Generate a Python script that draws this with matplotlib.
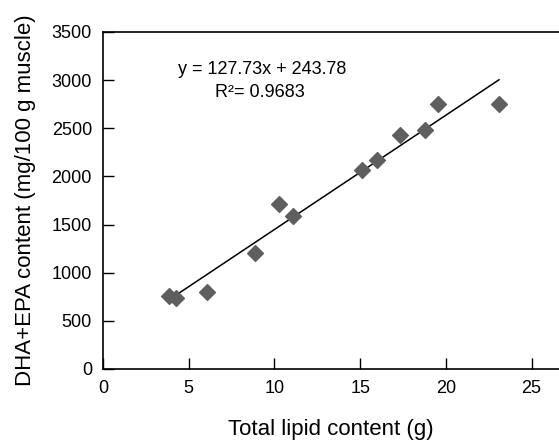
import numpy as np
import matplotlib
matplotlib.use('Agg')
import matplotlib.pyplot as plt

plt.rcParams['font.family'] = ['Liberation Sans', 'DejaVu Sans']

# %% DATA
lipid = [3.86, 4.28, 6.07, 8.86, 10.25, 11.1, 15.1, 15.98, 17.34, 18.8, 19.57, 23.1]
dha_epa = [758, 740, 795, 1208, 1713, 1592, 2066, 2170, 2430, 2482, 2752, 2752]
x_ticks = [0, 5, 10, 15, 20, 25]
y_ticks = [0, 500, 1000, 1500, 2000, 2500, 3000, 3500]
eq_text = 'y = 127.73x + 243.78'
r2_text = 'R\u00b2= 0.9683'

# %% PLOT
fig = plt.figure(figsize=(5.59, 4.45), dpi=100)
ax = fig.add_axes([0.1843, 0.1708, 0.8157, 0.7573])

ax.scatter(lipid, dha_epa, marker='D', s=65, color='#5f5f5f', zorder=3)

# regression line over the data range
k, b = np.polyfit(lipid, dha_epa, 1)
xs = np.array([min(lipid), max(lipid)])
ax.plot(xs, k * xs + b, color='black', lw=1.1, zorder=2)

ax.text(0.35, 0.89, eq_text, transform=ax.transAxes, ha='center', va='center', fontsize=13)
ax.text(0.345, 0.82, r2_text, transform=ax.transAxes, ha='center', va='center', fontsize=13)

ax.set_xlim(0, 26.6)
ax.set_ylim(0, 3500)
ax.set_xticks(x_ticks)
ax.set_yticks(y_ticks)
ax.tick_params(direction='in', length=8, width=1, labelsize=13, pad=8)
ax.spines['right'].set_visible(False)
for s in ['left', 'bottom', 'top']:
    ax.spines[s].set_linewidth(1.2)

ax.set_xlabel('Total lipid content (g)', fontsize=16, labelpad=16)
ax.set_ylabel('DHA+EPA content (mg/100 g muscle)', fontsize=16, labelpad=11)

fig.savefig('out.png', dpi=100)
